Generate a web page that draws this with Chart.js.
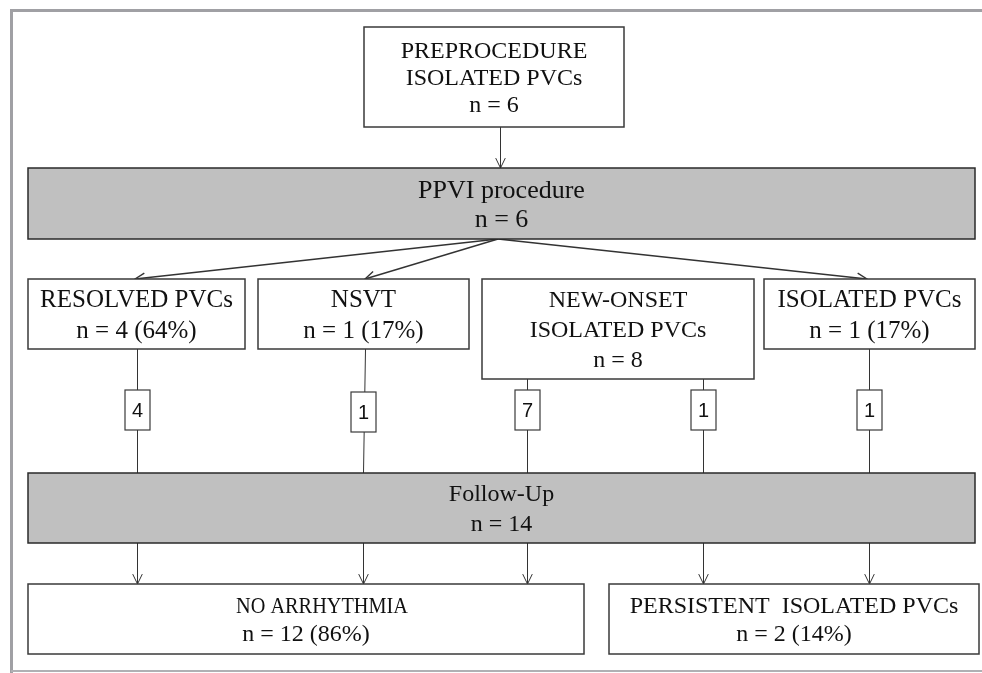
<!DOCTYPE html>
<html>
<head>
<title>PVC follow-up flow</title>
<script src="https://cdn.jsdelivr.net/npm/chart.js"></script>
<style>
  body { margin: 0; background: #fff; }
</style>
</head>
<body>
<canvas id="flow" width="982" height="673"></canvas>

<script>
// node texts and counts
const nodeTitles = ['PREPROCEDURE\nISOLATED PVCs', 'PPVI procedure', 'RESOLVED PVCs', 'NSVT',
  'NEW-ONSET\nISOLATED PVCs', 'ISOLATED PVCs', 'Follow-Up', 'NO ARRHYTHMIA', 'PERSISTENT  ISOLATED PVCs'];
const nodeCounts = [6, 6, 4, 1, 8, 1, 14, 12, 2];
const nodePercents = [null, null, 64, 17, null, 17, null, 86, 14];
// patients along each path from the middle row to follow-up
const pathCounts = [4, 1, 7, 1, 1];

// layout, in the units of the hidden axes (x0, y0, x1, y1)
const nodeBoxes = [
  [364, 27, 624, 127], [28, 168, 975, 239],
  [28, 279, 245, 349], [258, 279, 469, 349], [482, 279, 754, 379], [764, 279, 975, 349],
  [28, 473, 975, 543],
  [28, 584, 584, 654], [609, 584, 979, 654]
];
const nodeShaded = [false, true, false, false, false, false, true, false, false];
const nodeFontSize = [24, 26, 25, 25, 24, 25, 24, 24, 24];
const nodeLineGap = [27, 29, 31, 31, 30, 31, 30, 28, 28];
const nodeTitleWidth = [null, null, null, null, null, null, null, 172, null];
const nodeTitleShift = [0, 0, 0, 0, 0, 0, 0, 16, 0];
const pathX = [137, 363, 527, 703, 869];
const pathFrom = [2, 3, 4, 4, 5];
const pathTo = [7, 7, 7, 8, 8];
const splitTargets = [2, 3, 5];
const splitTips = [135, 365, 867];

const flowPlugin = {
  id: 'flow',
  afterDraw(chart) {
    const ctx = chart.ctx;
    const sx = chart.scales.x, sy = chart.scales.y;
    const px = v => sx.getPixelForValue(v);
    const py = v => sy.getPixelForValue(v);

    const line = (x0, y0, x1, y1) => {
      ctx.beginPath();
      ctx.moveTo(px(x0), py(y0));
      ctx.lineTo(px(x1), py(y1));
      ctx.stroke();
    };
    const arrow = (x0, y0, x1, y1) => {
      line(x0, y0, x1, y1);
      const a = Math.atan2(py(y1) - py(y0), px(x1) - px(x0));
      const L = 11, w = 0.45;
      ctx.beginPath();
      ctx.moveTo(px(x1) - L * Math.cos(a - w), py(y1) - L * Math.sin(a - w));
      ctx.lineTo(px(x1), py(y1));
      ctx.lineTo(px(x1) - L * Math.cos(a + w), py(y1) - L * Math.sin(a + w));
      ctx.stroke();
    };

    ctx.save();
    // outer frame
    ctx.strokeStyle = '#a0a0a4';
    ctx.lineWidth = 3;
    ctx.beginPath();
    ctx.moveTo(px(982), py(10.5));
    ctx.lineTo(px(11.5), py(10.5));
    ctx.lineTo(px(11.5), py(673));
    ctx.stroke();
    ctx.lineWidth = 2;
    ctx.strokeStyle = '#b0b0b4';
    line(11, 671, 982, 671);

    // connectors
    ctx.strokeStyle = '#333333';
    ctx.lineWidth = 1;
    const top = nodeBoxes[0], split = nodeBoxes[1], fu = nodeBoxes[6];
    arrow(500.5, top[3], 500.5, split[1]);
    ctx.lineWidth = 1.4;
    splitTargets.forEach((n, i) => arrow(498, split[3], splitTips[i], nodeBoxes[n][1]));
    ctx.lineWidth = 1;

    pathX.forEach((x, i) => {
      const xs = x + 0.5;
      const fromY = nodeBoxes[pathFrom[i]][3];
      line(i === 1 ? xs + 2 : xs, fromY, xs, fu[1]);
      arrow(xs, fu[3], xs, nodeBoxes[pathTo[i]][1]);
    });

    // boxes
    nodeBoxes.forEach((b, i) => {
      const x0 = px(b[0]), y0 = py(b[1]), x1 = px(b[2]), y1 = py(b[3]);
      ctx.fillStyle = nodeShaded[i] ? '#c0c0c0' : '#ffffff';
      ctx.fillRect(x0, y0, x1 - x0, y1 - y0);
      ctx.lineWidth = 1.5;
      ctx.strokeStyle = nodeShaded[i] ? '#2a2a2a' : '#3a3a3a';
      ctx.strokeRect(x0, y0, x1 - x0, y1 - y0);

      const lines = nodeTitles[i].split('\n');
      lines.push('n = ' + nodeCounts[i] + (nodePercents[i] != null ? ' (' + nodePercents[i] + '%)' : ''));
      const fs = nodeFontSize[i];
      const lh = nodeLineGap[i];
      const cy = (y0 + y1) / 2;
      const cx = (x0 + x1) / 2;
      ctx.fillStyle = '#111111';
      ctx.font = fs + 'px "Liberation Serif"';
      ctx.textAlign = 'center';
      ctx.textBaseline = 'alphabetic';
      lines.forEach((t, k) => {
        const yy = cy + (k - (lines.length - 1) / 2) * lh + fs * 0.33;
        const isTitle = k < lines.length - 1;
        const mw = isTitle ? nodeTitleWidth[i] : null;
        const xx = isTitle ? cx + nodeTitleShift[i] : cx;
        if (mw) ctx.fillText(t, xx, yy, mw);
        else ctx.fillText(t, xx, yy);
      });
    });

    // count badges on the paths
    pathX.forEach((x, i) => {
      const bx = px(x + 0.5), by = py(i === 1 ? 412 : 410);
      const w = 25, h = 40;
      ctx.fillStyle = '#ffffff';
      ctx.fillRect(bx - w / 2, by - h / 2, w, h);
      ctx.lineWidth = 1.2;
      ctx.strokeStyle = '#3a3a3a';
      ctx.strokeRect(bx - w / 2, by - h / 2, w, h);
      ctx.fillStyle = '#111111';
      ctx.font = '20px "Liberation Sans Narrow", "Liberation Sans"';
      ctx.textAlign = 'center';
      ctx.textBaseline = 'middle';
      ctx.fillText(String(pathCounts[i]), bx, by + 1);
    });
    ctx.restore();
  }
};

new Chart(document.getElementById('flow').getContext('2d'), {
  type: 'scatter',
  data: { datasets: [{ data: [], showLine: false }] },
  options: {
    responsive: false,
    animation: false,
    layout: { padding: 0 },
    plugins: { legend: { display: false }, tooltip: { enabled: false } },
    scales: {
      x: { type: 'linear', min: 0, max: 982, display: false },
      y: { type: 'linear', min: 0, max: 673, reverse: true, display: false }
    }
  },
  plugins: [flowPlugin]
});
</script>
</body>
</html>
